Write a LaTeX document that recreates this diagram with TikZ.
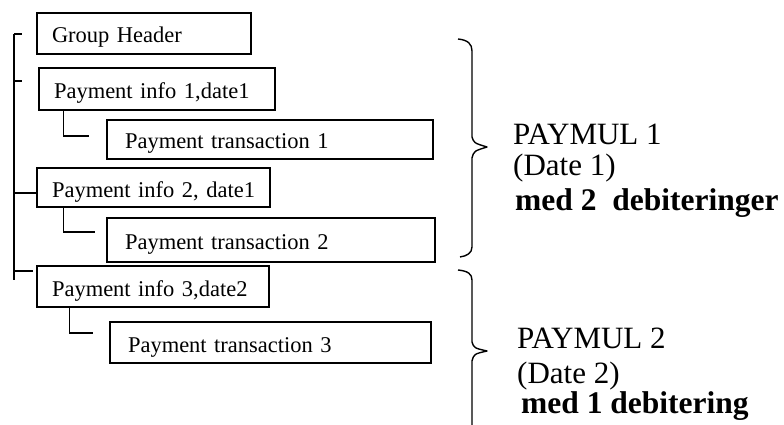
\documentclass[tikz,border=0pt]{standalone}
\usepackage{fontspec}
\setmainfont{Liberation Serif}
\begin{document}
\begin{tikzpicture}[x=1pt,y=-1pt,
  box/.style={draw, line width=1.6pt, inner ysep=0pt, text height=19pt, text depth=0pt,
              align=left, font=\fontsize{22.5}{26}\selectfont},
  pibox/.style={box, inner xsep=15pt},
  ptbox/.style={box, inner xsep=18pt},
  conn/.style={line width=1.4pt},
  brace/.style={line width=1.4pt, line join=round},
  lbl/.style={anchor=base west, inner sep=0pt, font=\fontsize{31}{36}\selectfont},
  blbl/.style={anchor=base west, inner sep=0pt, font=\bfseries\fontsize{31.5}{36}\selectfont}]
\useasboundingbox[fill=white] (0,0) rectangle (784,425);

% boxes
\node[pibox, text width=184pt, minimum height=41pt] (gh)  at (144,33.5)  {\mbox{Group Header}};
\node[pibox, text width=206pt, minimum height=42pt] (pi1) at (157,89)    {\mbox{Payment info 1,date1}};
\node[ptbox, text width=290pt, minimum height=39pt] (pt1) at (270,139.5) {\mbox{Payment transaction 1}};
\node[pibox, text width=203pt, minimum height=39pt] (pi2) at (153.5,187.5) {\mbox{Payment info 2, date1}};
\node[ptbox, text width=292pt, minimum height=44pt] (pt2) at (271,240)   {\mbox{Payment transaction 2}};
\node[pibox, text width=202pt, minimum height=41pt] (pi3) at (153,286.5) {\mbox{Payment info 3,date2}};
\node[ptbox, text width=285pt, minimum height=41pt] (pt3) at (270.5,342.5) {\mbox{Payment transaction 3}};

% left bracket
\coordinate (lt) at (14,34);
\coordinate (lb) at (14,280);
\coordinate (t0) at (22,34);
\coordinate (t1) at (22,81);
\coordinate (t2) at (37,193);
\coordinate (t3) at (33,271);
\draw[conn] (lt) -- (lb);
\draw[conn] (lt) -- (t0);
\draw[conn] (t1 -| lt) -- (t1);
\draw[conn] (t2 -| lt) -- (t2);
\draw[conn] (t3 -| lt) -- (t3);

% sub connectors
\coordinate (e1) at (89,136);
\coordinate (e2) at (95,232);
\coordinate (e3) at (93,333);
\draw[conn] (pi1.south west) ++(25,0) |- (e1);
\draw[conn] (pi2.south west) ++(27,0) |- (e2);
\draw[conn] (pi3.south west) ++(33,0) |- (e3);

% braces
\draw[brace] (458,39) .. controls (468,40) and (472,44) .. (472,51)
  -- (472,137) .. controls (474,143) .. (487,147)
  .. controls (474,151) .. (472,158) -- (472,247)
  .. controls (472,253) and (467,256) .. (460,257);
\draw[brace] (458,270) .. controls (468,271) and (472,274) .. (472,280)
  -- (472,342) .. controls (474,348) .. (487,351)
  .. controls (474,354) .. (472,361) -- (472,426);

% labels
\node[lbl]  (g1a) at (513,145) {PAYMUL 1};
\node[lbl]  (g1b) at (513,175) {(Date 1)};
\node[blbl] (g1c) at (515,210) {med 2 \ debiteringer};
\node[lbl]  (g2a) at (517,348) {PAYMUL 2};
\node[lbl]  (g2b) at (517,383) {(Date 2)};
\node[blbl] (g2c) at (521,413) {med 1 debitering};
\end{tikzpicture}
\end{document}
